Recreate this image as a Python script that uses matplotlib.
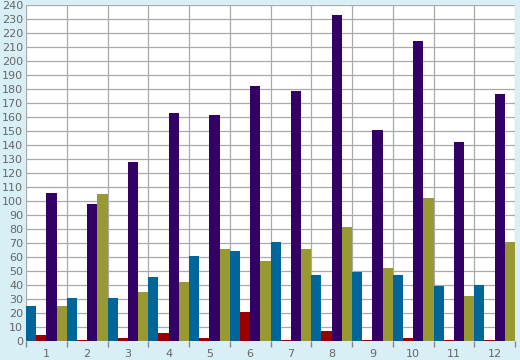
import matplotlib
matplotlib.use("Agg")
import matplotlib.pyplot as plt
import numpy as np

categories = ["1", "2", "3", "4", "5", "6", "7", "8", "9", "10", "11", "12"]
series_blue = [25, 31, 31, 45.5, 60.5, 64, 70.5, 47, 49, 47.5, 39, 40]
series_red = [4, 0.5, 2, 5.5, 2.5, 20.5, 0.5, 7.5, 0.5, 2.5, 0.5, 1]
series_purple = [106, 98, 128, 163, 161.5, 182, 178.5, 233, 151, 214.5, 142, 176.5]
series_olive = [25, 105, 35, 42, 65.5, 57.5, 66, 81.5, 52.5, 102, 32, 70.5]
y_ticks = list(range(0, 241, 10))

colors = ["#006699", "#990000", "#330066", "#999933"]
series = [series_blue, series_red, series_purple, series_olive]

W, H = 520, 360
fig = plt.figure(figsize=(W / 100, H / 100), dpi=100, facecolor="#d9eff6")
left, right, top, bottom = 26, 515, 5.3, 341
ax = fig.add_axes([left / W, 1 - bottom / H, (right - left) / W, (bottom - top) / H])
ax.set_facecolor("white")

n = len(categories)
x = np.arange(n)
bw = 0.25
for i, (vals, c) in enumerate(zip(series, colors)):
    ax.bar(x - 0.5 + bw * (i + 0.5), vals, width=bw, color=c, linewidth=0, zorder=3)

ax.set_xlim(-0.5, n - 0.5)
ax.set_ylim(0, 240)
ax.set_yticks(y_ticks)
ax.set_yticklabels([str(t) for t in y_ticks])
ax.set_xticks(x)
ax.set_xticklabels(categories)
ax.set_xticks(np.arange(n + 1) - 0.5, minor=True)

ax.grid(False)
for t in y_ticks:
    ax.axhline(t, color="#aaaaaa", linewidth=0.9, zorder=1)
for b in np.arange(n + 1) - 0.5:
    ax.axvline(b, color="#aaaaaa", linewidth=0.9, zorder=1)

ax.tick_params(axis="x", which="major", length=0, pad=5.5, labelsize=8, labelcolor="#666666")
ax.tick_params(axis="x", which="minor", length=4, width=1.0, color="#888888", direction="out")
ax.tick_params(axis="y", length=0, pad=2, labelsize=8, labelcolor="#666666")

for s in ax.spines.values():
    s.set_visible(False)

fig.savefig("out.png", dpi=100, facecolor=fig.get_facecolor())
